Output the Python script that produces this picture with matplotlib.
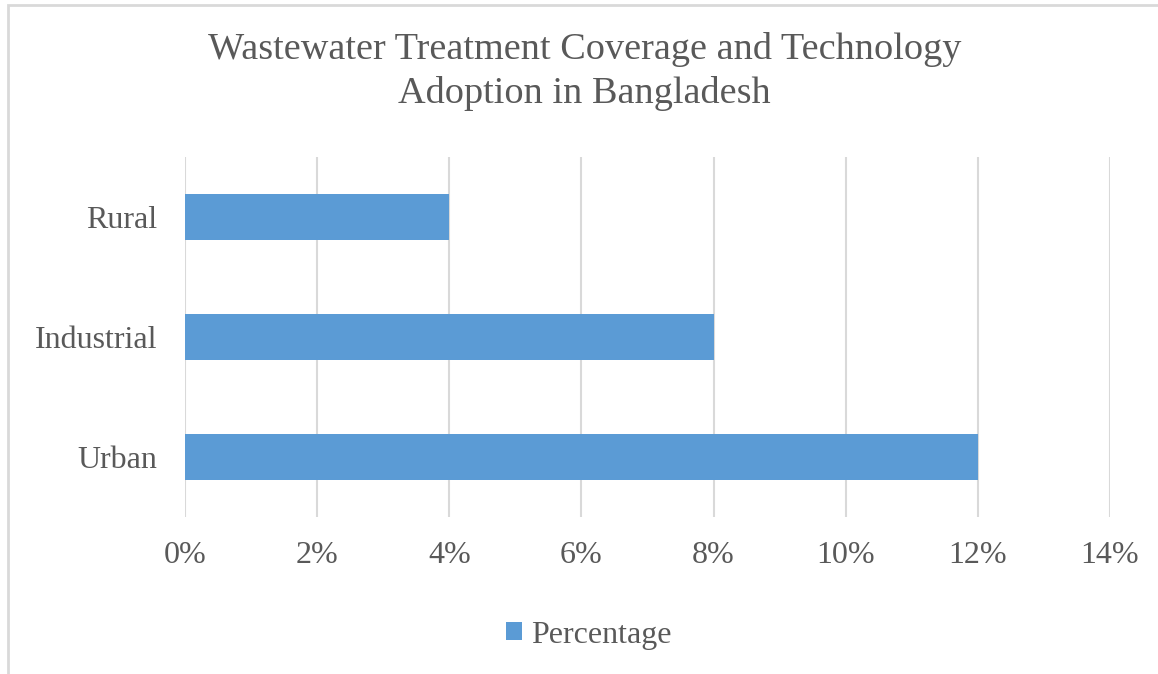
import matplotlib
matplotlib.use("Agg")
import matplotlib.pyplot as plt
from matplotlib.patches import Rectangle
from matplotlib.ticker import FuncFormatter

categories = ["Urban", "Industrial", "Rural"]
values = [12, 8, 4]
x_ticks = [0, 2, 4, 6, 8, 10, 12, 14]

TEXT = "#595959"
GRID = "#D9D9D9"
BAR = "#5B9BD5"

plt.rcParams["font.family"] = ["Liberation Serif", "DejaVu Serif"]

W, H = 1158, 674
fig = plt.figure(figsize=(W / 100, H / 100), dpi=100)
ax = fig.add_axes([185 / W, 1 - 517 / H, (1110 - 185) / W, (517 - 157) / H])

ax.barh(range(len(categories)), values, height=0.39, color=BAR,
        label="Percentage", zorder=3)
ax.set_xlim(0, 14)
ax.set_ylim(-0.5, len(categories) - 0.5)
ax.set_xticks(x_ticks)
ax.xaxis.set_major_formatter(FuncFormatter(lambda v, _: f"{v:.0f}%"))
ax.set_yticks(range(len(categories)))
ax.set_yticklabels(categories)
ax.grid(axis="x", color=GRID, lw=1.5, zorder=0)
ax.tick_params(length=0, labelsize=23, colors=TEXT)
ax.tick_params(axis="x", pad=17)
ax.tick_params(axis="y", pad=20)
for s in ax.spines.values():
    s.set_visible(False)

fig.suptitle("Wastewater Treatment Coverage and Technology\nAdoption in Bangladesh",
             x=0.505, y=1 - 32 / H, fontsize=27.5, color=TEXT, linespacing=1.32)

fig.legend(loc="center", bbox_to_anchor=(589 / W, 1 - 635 / H), frameon=False,
           fontsize=23, labelcolor=TEXT, handlelength=0.5, handleheight=0.5,
           handletextpad=0.3)

# light chart-area border (left and top edges visible)
fig.patches.append(Rectangle((8 / W, -0.1), 1.2, 1 - 5 / H + 0.1,
                             transform=fig.transFigure, fill=False,
                             edgecolor=GRID, lw=2))

fig.savefig("out.png", dpi=100)
